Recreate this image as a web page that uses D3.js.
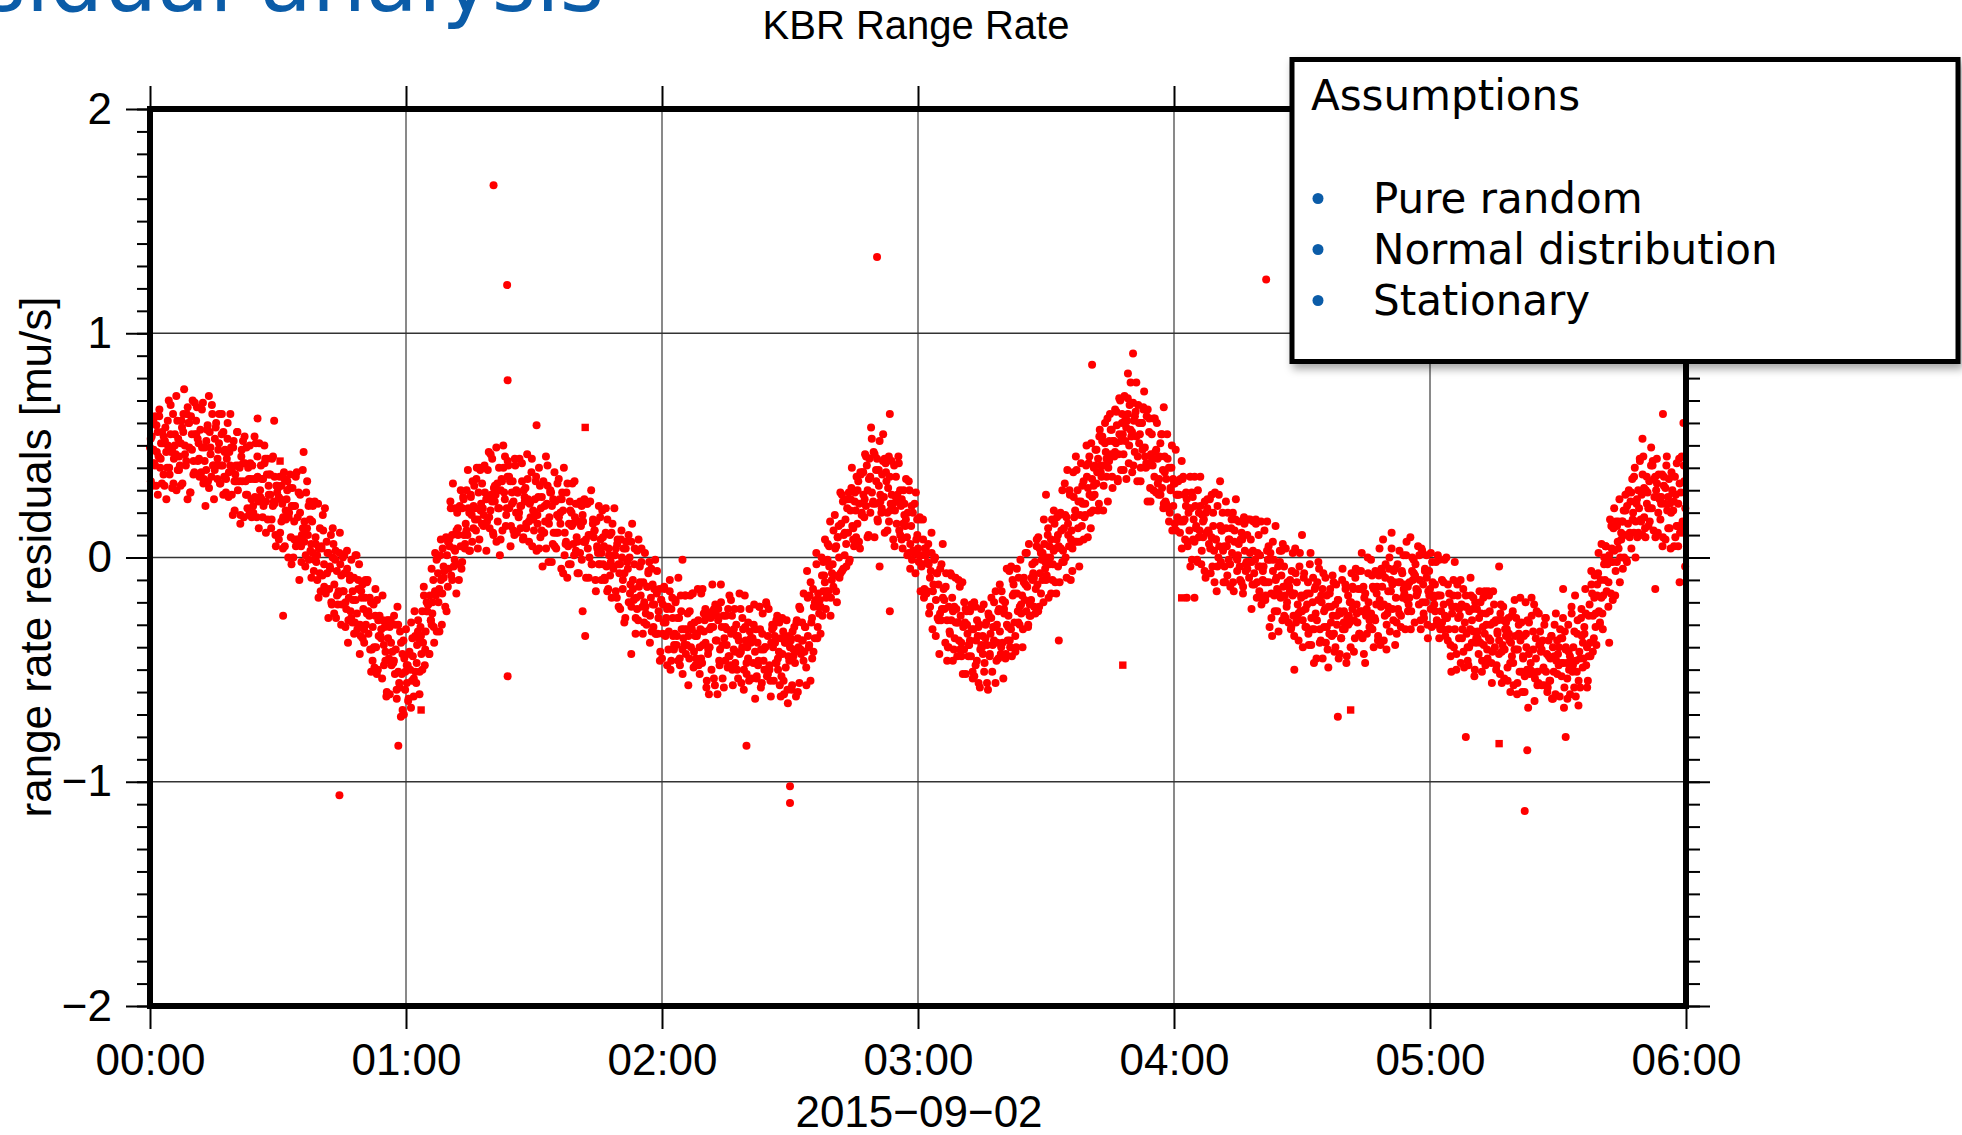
<!DOCTYPE html>
<html><head><meta charset="utf-8">
<script src="https://cdn.jsdelivr.net/npm/d3@7"></script>
<style>html,body{margin:0;padding:0;background:#fff;overflow:hidden}svg{display:block}</style>
</head><body>
<svg id="chart" width="1962" height="1135"></svg>
<script>
// residuals in 1/100 mu/s, first sample set: 5 samples per minute, one array per hour
const h0 = [49,34,54,42,61, 42,63,32,47,56, 45,66,40,51,33, 51,54,32,58,47, 40,50,70,37,55, 47,31,64,44,50, 46,30,61,53,39, 41,51,61,33,56, 75,46,41,64,26, 60,49,29,63,55,
70,43,38,55,61, 67,43,51,36,57, 38,49,69,35,43, 23,52,57,34,72, 56,46,36,64,41, 26,53,58,41,35, 48,64,33,41,55, 41,56,36,48,29, 44,60,27,47,41, 49,39,19,52,34,
37,34,56,30,41, 40,19,45,34,52, 18,42,34,49,28, 40,19,50,35,26, 41,20,35,27,51, 18,36,25,51,30, 41,35,18,23,50, 44,25,37,17,32, 37,28,13,44,23, 25,36,10,32,29,
31,8,36,26,16, 24,18,38,5,21, 26,34,0,20,31, 9,23,31,0,16, 23,5,38,18,8, -10,28,5,10,39, 10,16,-4,29,13, 10,-1,25,3,6, 16,2,-6,25,9, -2,-10,24,4,-7,
-15,4,-8,12,-3, 22,-16,7,2,-27, -14,-5,10,-21,0, 6,-12,-1,-27,-6, -21,-15,2,-3,-30, -21,0,-15,-7,-31, -23,-5,-38,-18,-8, -24,-1,-29,-19,-9, -29,-19,1,-32,-14, -3,-30,-35,-18,-12,
-23,-38,-18,-30,-11, -10,-34,-26,-41,-20, -41,-31,-21,-49,-26, -40,-19,-50,-35,-26, -35,-32,-54,-28,-39, -31,-42,-62,-28,-36, -45,-61,-28,-48,-42, -47,-26,-52,-41,-59, -22,-51,-56,-33,-71, -52,-68,-37,-45,-59];
const h1 = [-32,-56,-48,-63,-42, -50,-29,-55,-44,-62, -24,-51,-56,-39,-33, -36,-51,-31,-43,-24, -38,-17,-48,-33,-24, -24,-21,-43,-17,-28, -30,-20,-10,-38,-15, -17,-33,0,-20,-14, 1,-10,-30,4,-4, -6,-22,9,1,-13,
-5,5,25,-8,10, 33,4,-1,22,-16, 20,10,-10,23,5, -5,22,27,10,4, 15,30,10,22,3, 3,27,19,34,13, 32,22,12,40,17, 29,8,39,24,15, 22,19,41,15,26, 16,27,47,13,21,
28,44,11,31,25, 28,7,33,22,40, 1,30,35,12,50, 29,45,14,22,36, 41,22,34,14,29, 34,25,10,41,20, 11,29,18,44,23, 23,34,8,30,27, 31,13,46,26,16, 24,18,38,5,21,
12,26,34,3,19, 27,4,32,22,12, -4,34,11,16,45, 24,32,-2,18,29, 29,23,6,11,38, 25,4,19,11,35, 26,15,-5,29,21, 40,11,6,29,-9, 5,15,25,-3,20, 33,6,1,18,24,
9,-7,24,16,2, 14,-1,19,7,26, 7,-9,24,4,10, 0,10,30,-3,15, 9,12,-10,16,5, 2,23,-3,8,-10, 21,-3,5,-10,11, -4,17,-14,1,10, -2,-18,15,-5,1, 1,4,-18,8,-3,
-7,-23,8,0,-14, 4,-7,-27,7,-1, -5,-20,0,-12,7, 15,-14,-19,4,-34, -18,3,-28,-13,-4, -17,4,-22,-11,-29, 2,-25,-30,-13,-7, -2,-26,-18,-33,-12, -31,-21,-1,-34,-16, -34,-24,-14,-42,-19];
const h2 = [-45,-21,-29,-14,-35, -27,-48,-22,-33,-15, -50,-23,-18,-35,-41, -34,-19,-39,-27,-46, -27,-48,-17,-32,-41, -36,-39,-17,-43,-32, -25,-35,-45,-17,-40, -32,-16,-49,-29,-35, -45,-34,-14,-48,-40, -32,-16,-47,-39,-25,
-28,-38,-58,-25,-43, -61,-32,-27,-50,-12, -31,-23,-57,-37,-26, -61,-23,-46,-41,-12, -31,-54,-26,-36,-46, -26,-32,-49,-44,-17, -48,-34,-26,-57,-41, -23,-42,-30,-50,-35, -37,-43,-23,-56,-40, -32,-50,-17,-37,-47,
-40,-29,-55,-33,-36, -54,-36,-47,-21,-42, -32,-53,-38,-46,-22, -32,-41,-56,-25,-46, -50,-40,-20,-53,-35, -23,-50,-55,-38,-32, -40,-55,-35,-47,-28, -26,-50,-42,-57,-36, -53,-43,-33,-61,-38, -49,-28,-59,-44,-35,
-40,-37,-59,-33,-44, -31,-42,-62,-28,-36, -40,-56,-23,-43,-37, -37,-16,-42,-31,-49, -6,-35,-40,-17,-55, -29,-45,-14,-22,-36, -19,-3,-36,-16,-22, -19,-22,0,-26,-15, -8,8,-23,-15,-1, -15,-4,16,-18,-10,
-3,12,-8,4,-15, -20,9,14,-9,29, 15,-6,25,10,1, 17,-4,22,11,29, -1,26,31,14,8, 5,29,21,36,15, 34,24,4,37,19, 38,28,18,46,23, 41,30,10,44,36, 58,29,24,47,9,
24,34,44,16,39, 52,25,20,37,43, 27,11,42,34,20, 31,16,36,24,43, 24,8,41,21,27, 15,25,45,12,30, 23,26,4,30,19, 14,35,9,20,2, 30,6,14,-1,20, 3,24,-7,8,17];
const h3 = [4,-2,18,-15,1, -3,8,-18,4,1, -16,-2,6,-25,-9, -6,2,-32,-12,-1, 0,-19,-7,-27,-12, -43,-5,-28,-23,6, -14,-23,-38,-7,-28, -40,-22,-33,-7,-28, -18,-24,-41,-36,-9, -23,-44,-29,-37,-13,
-26,-44,-11,-31,-41, -29,-52,-24,-34,-44, -39,-24,-44,-32,-51, -32,-53,-22,-37,-46, -35,-56,-30,-41,-23, -40,-43,-21,-47,-36, -29,-39,-59,-26,-44, -34,-18,-51,-31,-37, -31,-15,-46,-38,-24, -23,-33,-43,-15,-38,
-54,-25,-20,-43,-5, -37,-26,-6,-40,-32, -44,-17,-12,-29,-35, -40,-16,-24,-9,-30, -1,-25,-17,-32,-11, -19,2,-24,-13,-31, 6,-21,-26,-9,-3, -7,-22,-2,-14,5, -12,9,-22,-7,2, -1,2,-20,6,-5,
-10,0,10,-18,5, 0,-16,17,-3,3, 15,4,-16,18,10, 5,-11,20,12,-2, 3,13,33,0,18, 39,10,5,28,-10, 12,4,38,18,7, 45,7,30,25,-4, 19,42,14,24,34, 18,24,41,36,9,
42,28,20,51,35, 21,40,28,48,33, 38,44,24,57,41, 36,54,21,41,51, 47,36,62,40,43, 64,46,57,31,52, 45,66,51,59,35, 46,55,70,39,60, 55,39,72,52,58, 61,64,42,68,57,
54,38,69,61,47, 65,54,34,68,60, 55,40,60,48,67, 74,45,40,63,25, 41,62,31,46,55, 41,62,36,47,29, 60,33,28,45,51, 55,31,39,24,45, 25,35,55,22,40, 20,30,40,12,35];
const h4 = [33,15,48,28,18, 34,28,11,16,43, 35,16,28,8,23, 26,5,20,12,36, 22,-1,27,17,7, 23,14,-1,30,9, 12,23,-3,19,16, 17,25,-9,11,22, 12,6,26,-7,9, -4,14,3,29,8,
-15,23,0,5,34, -2,12,20,-11,5, -11,13,5,20,-1, 8,-13,13,2,20, -15,12,17,0,-6, 1,16,-4,8,-11, 8,-13,18,3,-6, -2,-5,17,-9,2, 8,-2,-12,16,-7, -1,15,-18,2,-4,
-15,-4,16,-18,-10, -4,12,-19,-11,3, -1,-11,-31,2,-16, -35,-6,-1,-24,14, -9,-24,-4,-16,3, -18,3,-28,-13,-4, -17,4,-22,-11,-29, -13,-10,-32,-6,-17, -26,-16,4,-29,-11, -21,-37,-4,-24,-18,
-24,-40,-9,-17,-31, -31,-21,-11,-39,-16, 2,-27,-32,-9,-47, -14,-25,-45,-11,-19, -5,-32,-37,-20,-14, -7,-31,-23,-38,-17, -41,-22,-34,-14,-29, -35,-26,-11,-42,-21, -12,-30,-19,-45,-24, -25,-36,-10,-32,-29,
-32,-14,-47,-27,-17, -26,-20,-40,-7,-23, -14,-28,-36,-5,-21, -29,-6,-34,-24,-14, 2,-36,-13,-18,-47, -26,-34,0,-20,-31, -31,-25,-8,-13,-40, -27,-6,-21,-13,-37, -8,-19,-39,-5,-13, 8,-21,-26,-3,-41,
-25,-15,-5,-33,-10, 4,-23,-28,-11,-5, -18,-34,-3,-11,-25, -11,-26,-6,-18,1, -16,-32,1,-19,-13, -21,-11,9,-24,-6, -10,-7,-29,-3,-14, -16,5,-21,-10,-28, 4,-20,-12,-27,-6, -20,1,-30,-15,-6];
const h5 = [-14,2,-31,-11,-17, -21,-24,-2,-28,-17, -17,-1,-32,-24,-10, -32,-21,-1,-35,-27, -27,-12,-32,-20,-39, -51,-22,-17,-40,-2, -22,-43,-12,-27,-36, -26,-47,-21,-32,-14, -49,-22,-17,-34,-40, -48,-24,-32,-17,-38,
-23,-33,-53,-20,-38, -23,-33,-43,-15,-38, -25,-46,-31,-39,-15, -48,-30,-41,-15,-36, -24,-30,-47,-42,-15, -21,-40,-28,-48,-33, -28,-37,-52,-21,-42, -39,-28,-54,-32,-35, -32,-55,-27,-37,-47, -38,-44,-24,-57,-41,
-35,-27,-61,-41,-30, -51,-37,-29,-60,-44, -35,-53,-20,-40,-50, -67,-29,-52,-47,-18, -51,-41,-21,-54,-36, -24,-51,-56,-39,-33, -42,-57,-37,-49,-30, -27,-51,-43,-58,-37, -55,-45,-35,-63,-40, -51,-30,-61,-46,-37,
-43,-40,-62,-36,-47, -36,-47,-67,-33,-41, -47,-63,-30,-50,-44, -46,-25,-51,-40,-58, -17,-46,-51,-28,-66, -42,-58,-27,-35,-49, -45,-34,-14,-48,-40, -55,-26,-21,-44,-6, -16,-26,-36,-8,-31, -39,-12,-7,-24,-30,
-10,6,-25,-17,-3, -10,5,-15,-3,-22, 1,17,-16,4,-2, 13,3,-17,16,-2, 7,4,26,0,11, 16,-5,21,10,28, -1,23,15,30,9, 25,4,35,20,11, 40,16,24,9,30, 22,43,17,28,10,
45,18,13,30,36, 29,14,34,22,41, 22,43,12,27,36, 30,33,11,37,26, 17,27,37,9,32, 24,8,41,21,27, 35,24,4,38,30, 21,5,36,28,14, 14,24,44,11,29, 45,16,11,34,-4];

// second sample set: 3 samples per minute (offset 10 s), one array per hour
const b0 = [53,32,48, 41,59,28, 63,44,56, 37,52,26, 61,40,68, 48,33,55, 72,39,45, 32,58,64, 50,43,67, 60,29,48, 37,69,55, 53,44,37, 66,33,49, 39,59,31, 49,68,41,
39,60,44, 51,33,64, 28,47,35, 53,38,64, 28,49,21, 41,56,34, 15,48,42, 54,28,22, 35,42,18, 23,54,35, 45,13,27, 26,35,42, 11,44,28, 37,17,45, 24,5,32,
27,11,32, 4,35,17, 30,18,37, -3,23,8, 36,8,29, 20,-2,13, 7,1,34, 23,17,-9, 23,-1,6, 1,-18,13, 5,19,-13, -14,-7,2, -4,-20,13, -25,3,-17, -16,11,-8,
-15,1,-20, 3,-28,-10, -27,-15,-34, 1,-25,-10, -43,-15,-36, -32,-10,-25, -24,-18,-51, -46,-40,-14, -52,-28,-35, -36,-17,-48, -46,-60,-28, -31,-38,-47, -46,-30,-63, -30,-58,-38, -43,-70,-51];
const b1 = [-48,-64,-43, -67,-36,-54, -35,-47,-28, -61,-35,-50, -13,-41,-20, -21,-43,-28, -25,-31,2, -1,-7,-33, 8,-16,-9, -5,-24,7, 8,22,-10, -4,3,12, 13,-3,30, -2,26,6, 12,39,20,
28,7,23, 17,35,4, 40,21,33, 14,29,3, 39,18,46, 25,10,32, 49,16,22, 8,34,40, 26,19,43, 36,5,24, 12,44,30, 29,20,13, 42,9,25, 15,35,7, 25,44,17,
20,36,15, 40,9,27, 11,23,4, 41,15,30, -2,26,5, 11,33,18, 20,26,-7, 1,7,33, -3,21,14, 15,34,3, 7,-7,25, 23,16,7, 8,24,-9, 25,-3,17, 12,-15,4,
-3,18,2, 9,-9,22, -15,4,-8, 11,-4,22, -15,6,-22, -3,12,-10, -29,4,-2, 10,-16,-22, -10,-3,-27, -23,8,-11, -2,-34,-20, -22,-13,-6, -38,-5,-21, -14,-34,-6, -27,-46,-19];
const b2 = [-34,-13,-29, -23,-41,-10, -46,-27,-39, -20,-35,-9, -45,-24,-52, -32,-17,-39, -57,-24,-30, -16,-42,-48, -35,-28,-52, -45,-14,-33, -23,-55,-41, -40,-31,-24, -54,-21,-37, -28,-48,-20, -39,-58,-31,
-39,-23,-44, -19,-50,-32, -47,-35,-54, -16,-42,-27, -59,-31,-52, -45,-23,-38, -36,-30,-63, -54,-48,-22, -58,-34,-41, -40,-21,-52, -48,-62,-30, -31,-38,-47, -45,-29,-62, -27,-55,-35, -38,-65,-46,
-36,-57,-41, -47,-29,-60, -22,-41,-29, -46,-31,-57, -18,-39,-11, -27,-42,-20, 2,-31,-25, -34,-8,-2, -11,-18,6, 5,-26,-7, -13,19,5, 9,0,-7, 28,-5,11, 6,26,-2, 21,40,13,
25,9,30, 7,38,20, 38,26,45, 9,35,20, 53,25,46, 39,17,32, 28,22,55, 44,38,12, 45,21,28, 24,5,36, 28,42,10, 8,15,24, 17,1,34, -5,23,3, 2,29,10];
const b3 = [1,17,-4, 17,-14,4, -15,-3,-22, 11,-15,0, -35,-7,-28, -25,-3,-18, -19,-13,-46, -40,-34,-8, -46,-22,-29, -29,-10,-41, -38,-52,-20, -23,-30,-39, -37,-21,-54, -20,-48,-28, -31,-58,-39,
-35,-51,-30, -56,-25,-43, -27,-39,-20, -56,-30,-45, -12,-40,-19, -23,-45,-30, -31,-37,-4, -10,-16,-42, -5,-29,-22, -21,-40,-9, -12,2,-30, -26,-19,-10, -9,-25,8, -24,4,-16, -10,17,-2,
-8,13,-3, 8,-10,21, -11,8,-4, 19,4,30, -2,19,-9, 15,30,8, -6,27,21, 39,13,7, 25,32,8, 19,50,31, 45,13,27, 32,41,48, 21,54,38, 52,32,60, 44,25,52,
57,36,52, 47,65,34, 71,52,64, 46,61,35, 71,50,78, 56,41,63, 78,45,51, 34,60,66, 49,42,66, 56,25,44, 30,62,48, 44,35,28, 55,22,38, 24,44,16, 31,50,23];
const b4 = [33,12,28, 17,35,4, 36,17,29, 7,22,-4, 29,8,36, 13,-2,20, 36,3,9, -6,20,26, 11,4,28, 20,-11,8, -4,28,14, 12,3,-4, 25,-8,8, -3,17,-11, 7,26,-1,
6,-10,11, -16,15,-3, 10,-2,17, -23,3,-12, 17,-11,10, 1,-21,-6, -11,-17,16, 5,-1,-27, 7,-17,-10, -14,-33,-2, -8,6,-26, -27,-20,-11, -15,-31,2, -35,-7,-27, -25,2,-17,
-28,-7,-23, -16,-34,-3, -39,-20,-32, -13,-28,-2, -38,-17,-45, -24,-9,-31, -49,-16,-22, -8,-34,-40, -26,-19,-43, -36,-5,-24, -12,-44,-30, -29,-20,-13, -42,-9,-25, -14,-34,-6, -24,-43,-16,
-23,-7,-28, -1,-32,-14, -28,-16,-35, 4,-22,-7, -37,-9,-30, -22,0,-15, -12,-6,-39, -29,-23,3, -31,-7,-14, -12,7,-24, -18,-32,0, -1,-8,-17, -15,1,-32, 3,-25,-5, -9,-36,-17];
const b5 = [-23,-2,-18, -12,-30,1, -36,-17,-29, -11,-26,0, -37,-16,-44, -25,-10,-32, -50,-17,-23, -10,-36,-42, -29,-22,-46, -40,-9,-28, -18,-50,-36, -36,-27,-20, -51,-18,-34, -25,-45,-17, -37,-56,-29,
-29,-50,-34, -43,-25,-56, -22,-41,-29, -49,-34,-60, -26,-47,-19, -41,-56,-34, -18,-51,-45, -60,-34,-28, -43,-50,-26, -33,-64,-45, -57,-25,-39, -41,-50,-57, -27,-60,-44, -55,-35,-63, -44,-25,-52,
-48,-32,-53, -27,-58,-40, -54,-42,-61, -22,-48,-33, -62,-34,-55, -45,-23,-38, -31,-25,-58, -44,-38,-12, -42,-18,-25, -17,2,-29, -18,-32,0, 5,-2,-11, -2,14,-19, 22,-6,14, 16,-11,8,
16,0,21, -2,29,11, 29,17,36, 0,26,11, 44,16,37, 31,9,24, 22,16,49, 41,35,9, 44,20,27, 24,5,36, 31,45,13, 13,20,29, 25,9,42, 5,33,13, 14,41,22];

// isolated points: [hours after 00:00, value]
const outliers = [[1.342,1.66],[1.395,1.215],[1.397,0.79],[1.51,0.59],[1.397,-0.53],[1.69,-0.24],[1.70,-0.35],[0.97,-0.84],[0.74,-1.06],
  [2.84,1.34],[2.89,0.64],[2.33,-0.84],[2.50,-1.02],[2.50,-1.095],[2.89,-0.24],[3.68,0.86],[3.84,0.91],[3.82,0.82],[4.36,1.24],
  [4.64,-0.71],[5.14,-0.80],[5.38,-0.86],[5.37,-1.13],[5.53,-0.80],[5.91,0.64],[5.99,0.60],[0.42,0.62],[0.485,0.61],[0.60,0.47],
  [0.52,-0.26],[1.88,-0.43],[2.08,-0.01],[2.85,-0.04],[3.50,0.28],[3.55,-0.37],[3.96,0.67],[4.05,-0.18],[4.08,-0.18],[4.47,-0.50],
  [5.27,-0.04],[5.52,-0.14],[5.70,-0.38],[5.975,-0.11],[5.88,-0.14],[5.83,0.53],[1.10,-0.05],[4.85,0.11],[4.50,0.10]];
const squares = [[3.80,-0.48],[4.03,-0.18],[4.69,-0.68],[5.27,-0.83],[0.508,0.43],[1.059,-0.68],[1.70,0.58]];

const yMajor = [-2,-1,0,1,2];
const yLabels = ["\u22122","\u22121","0","1","2"];
const xLabels = ["00:00","01:00","02:00","03:00","04:00","05:00","06:00"];
const legendTitle = "Assumptions";
const legendItems = ["Pure random","Normal distribution","Stationary"];

const svg = d3.select("#chart");
const helv = "'Liberation Sans', Arial, Helvetica, sans-serif";
const deja = "'DejaVu Sans', Verdana, sans-serif";
const t0 = Date.UTC(2015,8,2,0,0,0);
const hd = h => new Date(t0 + h*3600000);

const L=150, R=1686, T=109, B=1006;
const x = d3.scaleUtc().domain([hd(0), hd(6)]).range([L,R]);
const y = d3.scaleLinear().domain([-2,2]).range([B,T]);

svg.append("rect").attr("width",1962).attr("height",1135).attr("fill","#fff");

const defs = svg.append("defs");
defs.append("filter").attr("id","sh").attr("x","-5%").attr("y","-5%").attr("width","115%").attr("height","125%")
  .append("feDropShadow").attr("dx",3).attr("dy",5).attr("stdDeviation",4).attr("flood-color","#000").attr("flood-opacity",0.35);

// slide title fragment
svg.append("text").attr("x",604).attr("y",11).attr("text-anchor","end")
  .attr("font-family",deja).attr("font-size",85).attr("fill","#0b5ca8").text("Residual analysis");

// chart title
svg.append("text").attr("x",916).attr("y",39).attr("text-anchor","middle")
  .attr("font-family",helv).attr("font-size",40).attr("fill","#000").text("KBR Range Rate");

// grid
const hourTicks = d3.range(0,7).map(hd);
svg.append("g").selectAll("line").data(hourTicks.slice(1,6)).join("line")
  .attr("x1",d=>x(d)).attr("x2",d=>x(d)).attr("y1",T).attr("y2",B)
  .attr("stroke","#4a4a4a").attr("stroke-width",1.3);
svg.append("g").selectAll("line").data([-1,0,1]).join("line")
  .attr("x1",L).attr("x2",R).attr("y1",d=>y(d)).attr("y2",d=>y(d))
  .attr("stroke","#333").attr("stroke-width",1.3);

// data points
const pts = [];
[h0,h1,h2,h3,h4,h5].forEach((arr,k)=>arr.forEach((v,i)=>pts.push([hd(k+i/arr.length), v/100])));
[b0,b1,b2,b3,b4,b5].forEach((arr,k)=>arr.forEach((v,i)=>pts.push([hd(k+(i+0.5)/arr.length), v/100])));
outliers.forEach(d=>pts.push([hd(d[0]), d[1]]));
const gp = svg.append("g").attr("fill","#ff0000");
gp.selectAll("circle").data(pts).join("circle")
  .attr("cx",d=>x(d[0])).attr("cy",d=>y(d[1])).attr("r",4.0);
gp.selectAll("rect").data(squares).join("rect")
  .attr("x",d=>x(hd(d[0]))-3.7).attr("y",d=>y(d[1])-3.7).attr("width",7.4).attr("height",7.4);

// axes
function styleAxis(g){ g.select(".domain").remove(); g.selectAll("line").attr("stroke","#000").attr("stroke-width",2);
  g.selectAll("text").attr("font-family",helv).attr("font-size",44).attr("fill","#000"); }
const minorY = d3.range(-20,21).map(v=>v/10);
svg.append("g").attr("transform",`translate(${L},0)`).call(d3.axisLeft(y).tickValues(minorY).tickSize(13).tickFormat("")).call(styleAxis);
svg.append("g").attr("transform",`translate(${L},0)`).call(d3.axisLeft(y).tickValues(yMajor).tickSize(24).tickPadding(14).tickFormat((d,i)=>yLabels[i])).call(styleAxis);
svg.append("g").attr("transform",`translate(${R},0)`).call(d3.axisRight(y).tickValues(minorY).tickSize(14).tickFormat("")).call(styleAxis);
svg.append("g").attr("transform",`translate(${R},0)`).call(d3.axisRight(y).tickValues(yMajor).tickSize(24).tickFormat("")).call(styleAxis);
svg.append("g").attr("transform",`translate(0,${B})`).call(d3.axisBottom(x).tickValues(hourTicks).tickSize(23).tickPadding(14.8).tickFormat((d,i)=>xLabels[i])).call(styleAxis);
svg.append("g").attr("transform",`translate(0,${T})`).call(d3.axisTop(x).tickValues(hourTicks).tickSize(23).tickFormat("")).call(styleAxis);

// frame
svg.append("rect").attr("x",L).attr("y",T).attr("width",R-L).attr("height",B-T)
  .attr("fill","none").attr("stroke","#000").attr("stroke-width",6);

// axis titles
svg.append("text").attr("x",919).attr("y",1127).attr("text-anchor","middle")
  .attr("font-family",helv).attr("font-size",44).text("2015\u221209\u221202");
svg.append("text").attr("transform","translate(51,557) rotate(-90)").attr("text-anchor","middle")
  .attr("font-family",helv).attr("font-size",44).text("range rate residuals [mu/s]");

// assumptions box
const lg = svg.append("g");
lg.append("rect").attr("x",1292).attr("y",59.5).attr("width",666).attr("height",302)
  .attr("fill","#fff").attr("stroke","#000").attr("stroke-width",5).attr("filter","url(#sh)");
lg.append("text").attr("x",1311).attr("y",110).attr("font-family",deja).attr("font-size",42).text(legendTitle);
const li = lg.selectAll("g.item").data(legendItems).join("g").attr("class","item")
  .attr("transform",(d,i)=>`translate(0,${i*51})`);
li.append("circle").attr("cx",1318).attr("cy",198.5).attr("r",5.5).attr("fill","#0b5ca8");
li.append("text").attr("x",1373).attr("y",213).attr("font-family",deja).attr("font-size",42).text(d=>d);
</script>
</body></html>
